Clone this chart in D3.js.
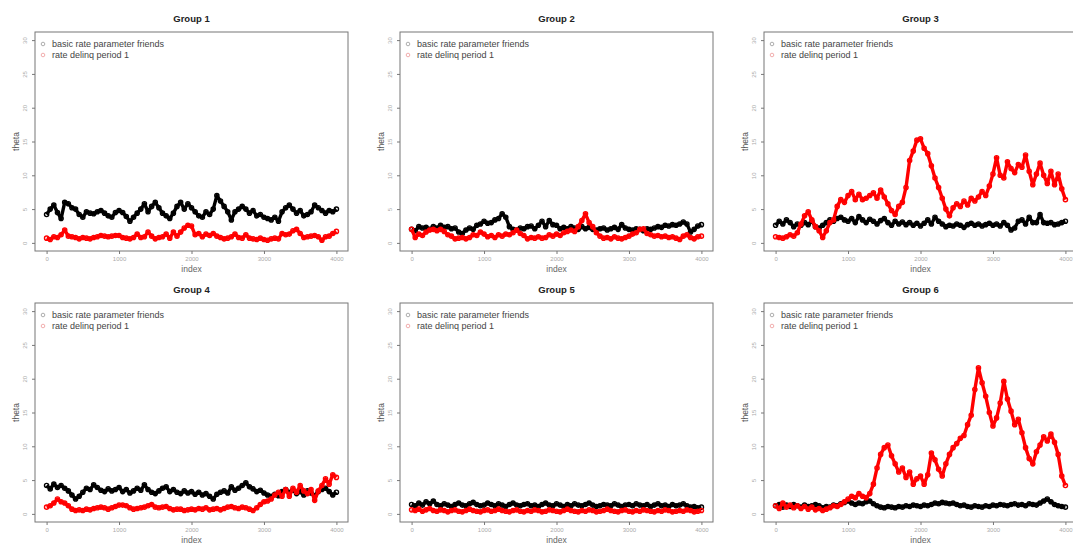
<!DOCTYPE html>
<html>
<head>
<meta charset="utf-8">
<script src="https://cdn.jsdelivr.net/npm/d3@7"></script>
<style>
  body { margin: 0; background: #fff; }
  svg { display: block; font-family: "Liberation Sans", Arial, sans-serif; }
  .tick text { fill: #aaa; font-size: 6px; }
  .tick line { stroke: #777; }
  .domain { display: none; }
</style>
</head>
<body>
<div id="chart"></div>
<script>
var groupNames = ["Group 1", "Group 2", "Group 3", "Group 4", "Group 5", "Group 6"];
var seriesNames = ["basic rate parameter friends", "rate delinq period 1"];
var seriesColors = ["#000000", "#ff0000"];
var iterations = d3.range(0, 4001, 50);
var xTicks = [0, 1000, 2000, 3000, 4000];
var yTicks = [0, 5, 10, 15, 20, 25, 30];

// basic rate parameter friends, one array per group
var friends1 = [4.2,5.0,5.6,4.5,3.6,6.0,5.8,5.2,5.0,4.2,3.8,4.6,4.4,4.3,4.6,4.8,4.4,4.0,3.8,4.5,4.8,4.5,3.9,3.2,3.8,4.4,5.0,5.8,4.6,5.4,6.0,5.2,4.4,4.0,3.6,4.4,5.4,6.0,5.0,5.8,5.2,4.6,4.0,3.8,4.6,4.2,5.0,7.0,6.2,5.4,4.6,3.4,4.6,5.0,5.4,5.0,4.4,4.8,4.0,4.2,3.8,3.6,3.4,3.8,3.2,4.6,5.2,5.6,5.0,4.4,4.8,4.0,4.2,4.6,5.6,5.2,4.8,4.4,4.8,4.6,5.0];
var friends2 = [2.0,1.8,2.4,2.2,2.3,2.0,2.4,2.2,2.6,2.3,2.4,2.1,2.2,1.6,1.4,1.9,2.2,2.0,2.6,2.8,3.2,2.9,3.0,3.4,3.6,4.3,3.8,2.4,2.0,1.9,2.2,2.1,2.4,2.5,2.1,2.6,3.2,2.4,3.3,2.7,2.6,2.1,2.3,2.1,2.4,2.2,2.0,2.4,2.1,2.3,2.0,1.9,2.1,2.2,1.9,2.1,2.3,2.0,2.7,2.2,2.0,1.9,2.1,2.0,1.8,2.1,2.0,2.2,2.4,2.3,2.6,2.5,2.7,2.6,2.8,3.1,2.8,1.6,2.0,2.5,2.7];
var friends3 = [2.6,3.2,2.8,3.4,3.0,2.4,2.8,2.6,3.0,2.7,3.2,2.4,2.2,2.6,3.0,3.4,3.2,3.6,3.8,3.4,3.2,3.6,3.0,3.9,3.4,3.0,3.5,3.2,2.8,3.3,3.6,3.0,2.6,3.2,2.8,3.1,2.7,3.0,2.6,2.9,2.5,2.9,3.4,2.8,3.8,3.2,2.8,2.4,2.6,2.5,2.8,2.6,2.3,2.7,2.9,2.6,2.8,2.5,2.7,2.9,2.6,2.8,2.5,3.0,2.6,1.9,2.2,3.2,3.4,2.8,3.8,3.0,3.0,4.2,3.0,2.9,3.0,2.7,2.8,3.0,3.2];
var friends4 = [4.2,3.7,4.4,3.9,4.2,3.8,3.4,2.8,2.2,2.6,3.2,3.8,3.6,4.3,3.9,3.5,3.3,3.7,3.4,3.6,3.9,3.3,3.6,3.1,3.4,3.8,3.5,4.3,3.6,3.2,3.0,3.4,3.8,4.0,3.3,3.6,3.2,3.0,3.4,3.1,3.3,2.9,3.2,2.8,3.0,2.6,2.2,2.9,3.2,3.4,3.1,4.0,3.5,3.8,4.2,4.6,4.0,3.7,3.3,3.5,3.1,2.8,2.6,2.9,2.7,3.3,3.6,3.2,3.5,3.0,3.3,2.8,3.4,3.1,2.7,3.3,3.6,3.8,3.3,2.8,3.2];
var friends5 = [1.4,1.2,1.6,1.3,1.8,1.5,1.9,1.4,1.2,1.5,1.3,1.1,1.4,1.6,1.3,1.2,1.5,1.7,1.4,1.2,1.3,1.6,1.4,1.2,1.5,1.3,1.1,1.4,1.6,1.3,1.2,1.4,1.5,1.2,1.3,1.1,1.4,1.6,1.3,1.2,1.5,1.3,1.1,1.4,1.2,1.5,1.3,1.2,1.4,1.6,1.3,1.1,1.2,1.4,1.3,1.2,1.5,1.3,1.1,1.3,1.4,1.2,1.5,1.3,1.2,1.4,1.1,1.3,1.5,1.2,1.3,1.1,1.4,1.2,1.3,1.5,1.2,1.0,1.1,0.9,1.0];
var friends6 = [1.2,1.4,1.0,1.3,1.1,1.4,1.2,1.0,1.3,1.1,1.2,1.4,1.2,0.9,1.1,1.0,1.3,1.2,1.5,1.7,1.9,1.6,1.4,1.6,1.5,1.8,1.9,1.5,1.2,1.0,0.9,1.1,1.0,0.9,1.1,1.0,1.2,1.1,1.3,1.2,1.1,1.3,1.2,1.4,1.6,1.5,1.7,1.6,1.5,1.6,1.4,1.2,1.3,1.1,1.0,1.2,1.1,1.0,1.2,1.1,1.3,1.2,1.4,1.3,1.2,1.4,1.5,1.3,1.4,1.2,1.5,1.4,1.3,1.6,1.9,2.2,1.8,1.4,1.2,1.1,1.0];

// rate delinq period 1, one array per group
var delinq1 = [0.7,0.5,0.9,0.8,1.2,1.9,1.0,0.9,0.8,0.6,0.8,0.7,0.6,0.8,0.9,1.1,1.0,0.9,1.0,1.1,1.1,0.8,0.7,0.6,0.8,1.3,0.8,0.9,1.6,1.0,0.6,0.8,0.9,1.3,0.7,1.6,1.0,1.6,2.2,2.6,2.5,1.2,1.4,0.9,1.3,1.1,1.4,1.0,0.8,0.6,0.7,0.9,1.3,0.8,0.7,1.2,0.7,0.6,0.5,0.7,0.5,0.4,0.6,0.7,0.6,1.4,1.2,1.3,1.8,2.0,1.4,0.8,0.9,1.0,1.1,0.9,0.4,0.9,1.0,1.4,1.7];
var delinq2 = [2.0,0.8,1.3,1.1,1.6,1.9,2.0,1.8,2.0,1.7,1.2,1.0,0.6,0.7,0.8,0.6,0.8,1.2,1.1,1.6,1.3,0.9,1.1,0.8,1.2,1.0,1.3,1.2,1.5,1.9,1.4,1.1,0.6,0.8,0.7,0.9,0.7,0.8,1.2,1.0,1.3,1.1,1.5,1.7,1.9,1.7,2.4,3.3,4.3,3.0,2.4,1.5,1.0,0.7,0.8,0.6,0.9,0.7,0.6,0.8,1.0,1.3,1.5,2.0,2.1,1.4,1.2,1.0,1.1,0.9,1.0,0.8,0.9,0.7,0.5,1.0,1.2,0.8,0.6,0.9,1.0];
var delinq3 = [0.9,0.8,0.7,0.9,1.2,1.0,1.5,2.8,4.0,4.6,3.4,2.4,1.8,0.8,1.8,3.0,3.4,5.4,6.4,6.0,7.0,7.6,6.4,7.2,6.4,6.6,7.0,7.4,6.6,7.8,6.8,5.8,4.8,4.2,5.4,6.0,8.2,12.2,13.6,15.2,15.4,14.0,13.2,11.4,9.6,8.2,6.6,5.0,4.0,5.2,5.8,5.4,6.2,5.6,6.6,6.2,6.8,7.6,7.0,8.4,10.2,12.6,10.0,9.6,12.0,11.0,10.4,11.6,11.2,13.0,10.6,8.6,10.2,11.8,10.0,8.8,10.6,8.6,10.2,8.0,6.4];
var delinq4 = [1.0,1.2,1.6,2.2,1.8,1.6,1.2,0.7,0.5,0.6,0.5,0.7,0.6,0.8,0.9,1.0,0.9,0.7,0.9,1.1,1.3,1.3,1.2,0.9,0.7,0.8,0.9,1.0,1.2,1.4,1.0,0.9,1.0,1.1,0.8,0.6,0.7,0.7,0.5,0.6,0.7,0.6,0.8,0.7,0.9,0.6,0.7,0.8,0.6,0.8,1.0,1.1,0.9,0.8,1.0,0.9,0.7,0.5,0.9,1.4,1.8,1.9,2.2,2.8,3.2,2.6,3.6,2.6,3.8,3.2,4.2,3.4,3.0,3.6,2.0,3.4,4.2,5.2,4.4,5.8,5.4];
var delinq5 = [0.6,0.5,0.7,0.4,0.6,0.8,0.5,0.4,0.6,0.5,0.3,0.5,0.6,0.4,0.3,0.5,0.7,0.5,0.4,0.3,0.5,0.6,0.4,0.5,0.7,0.5,0.4,0.3,0.5,0.6,0.4,0.3,0.5,0.4,0.6,0.5,0.3,0.4,0.6,0.5,0.4,0.3,0.5,0.7,0.5,0.4,0.3,0.5,0.4,0.6,0.5,0.3,0.4,0.5,0.7,0.5,0.4,0.3,0.5,0.6,0.4,0.3,0.5,0.4,0.6,0.5,0.4,0.3,0.5,0.4,0.6,0.5,0.3,0.4,0.5,0.4,0.6,0.5,0.3,0.4,0.5];
var delinq6 = [1.2,0.8,1.6,1.0,1.3,0.9,1.2,0.8,1.1,0.7,1.0,0.6,0.8,0.5,0.7,0.9,1.2,1.1,1.4,1.8,2.2,2.6,2.4,3.0,2.6,2.4,3.0,4.4,6.8,8.8,9.8,10.2,8.6,7.4,6.2,6.8,5.4,6.2,4.4,5.2,5.6,4.4,5.8,9.0,8.0,6.6,5.6,7.4,8.8,9.8,10.4,11.2,11.6,13.2,14.6,18.4,21.6,19.4,17.4,15.0,13.0,14.2,16.4,19.6,17.0,15.2,13.2,14.0,12.0,9.8,8.2,7.4,9.2,10.2,11.4,10.8,11.8,10.6,8.8,5.6,4.2];

var friendsSeries = [friends1, friends2, friends3, friends4, friends5, friends6];
var delinqSeries = [delinq1, delinq2, delinq3, delinq4, delinq5, delinq6];

var W = 1073, H = 544;
var boxW = 313;
var colLeft = [35, 400, 764];
var rowTop = [32, 303];
var boxH = 219;

var svg = d3.select("#chart").append("svg")
  .attr("width", W)
  .attr("height", H);

groupNames.forEach(function (name, gi) {
  var left = colLeft[gi % 3], top = rowTop[Math.floor(gi / 3)];
  var g = svg.append("g")
    .attr("transform", "translate(" + left + "," + top + ")");

  // R style axes: 4% extension of the data range
  var x = d3.scaleLinear().domain([-160, 4160]).range([0, boxW]);
  var y = d3.scaleLinear().domain([-1.2, 31.2]).range([boxH, 0]);

  var xAxis = d3.axisBottom(x).tickValues(xTicks).tickSize(3).tickPadding(3)
    .tickFormat(d3.format("d"));
  var yAxis = d3.axisLeft(y).tickValues(yTicks).tickSize(3)
    .tickFormat(d3.format("d"));

  g.append("g")
    .attr("class", "x axis")
    .attr("transform", "translate(0," + boxH + ")")
    .call(xAxis);

  g.append("g")
    .attr("class", "y axis")
    .call(yAxis)
    .selectAll("text")
    .attr("x", -8)
    .attr("y", 0)
    .attr("dy", 0)
    .attr("transform", "rotate(-90,-8,0)")
    .style("text-anchor", "middle");

  // series traces
  var line = d3.line()
    .x(function (d, i) { return x(iterations[i]); })
    .y(function (d) { return y(d); });

  [friendsSeries[gi], delinqSeries[gi]].forEach(function (vals, si) {
    g.append("path")
      .datum(vals)
      .attr("fill", "none")
      .attr("stroke", seriesColors[si])
      .attr("stroke-width", 3.4)
      .attr("stroke-linejoin", "round")
      .attr("d", line);
    g.selectAll(".pt" + si)
      .data(vals)
      .enter().append("circle")
      .attr("class", "pt" + si)
      .attr("cx", function (d, i) { return x(iterations[i]); })
      .attr("cy", function (d) { return y(d); })
      .attr("r", 2.1)
      .attr("fill", "none")
      .attr("stroke", seriesColors[si])
      .attr("stroke-width", 1.4);
  });

  // plot box
  g.append("rect")
    .attr("width", boxW)
    .attr("height", boxH)
    .attr("fill", "none")
    .attr("stroke", "#777")
    .attr("stroke-width", 1);

  // legend
  seriesNames.forEach(function (s, si) {
    g.append("circle")
      .attr("cx", 8)
      .attr("cy", 12 + si * 11)
      .attr("r", 1.8)
      .attr("fill", "none")
      .attr("stroke", si === 0 ? "#999" : "#e99")
      .attr("stroke-width", 0.8);
    g.append("text")
      .attr("x", 17)
      .attr("y", 12 + si * 11)
      .attr("dy", "0.35em")
      .style("font-size", "9px")
      .style("fill", "#444")
      .text(s);
  });

  g.append("text")
    .attr("x", boxW / 2)
    .attr("y", -10)
    .style("text-anchor", "middle")
    .style("font-size", "9.5px")
    .style("font-weight", "bold")
    .style("fill", "#222")
    .text(name);

  g.append("text")
    .attr("x", boxW / 2)
    .attr("y", boxH + 21)
    .style("text-anchor", "middle")
    .style("font-size", "8.5px")
    .style("fill", "#666")
    .text("index");

  g.append("text")
    .attr("transform", "translate(-16," + (boxH / 2) + ") rotate(-90)")
    .style("text-anchor", "middle")
    .style("font-size", "8.5px")
    .style("fill", "#555")
    .text("theta");
});
</script>
</body>
</html>
